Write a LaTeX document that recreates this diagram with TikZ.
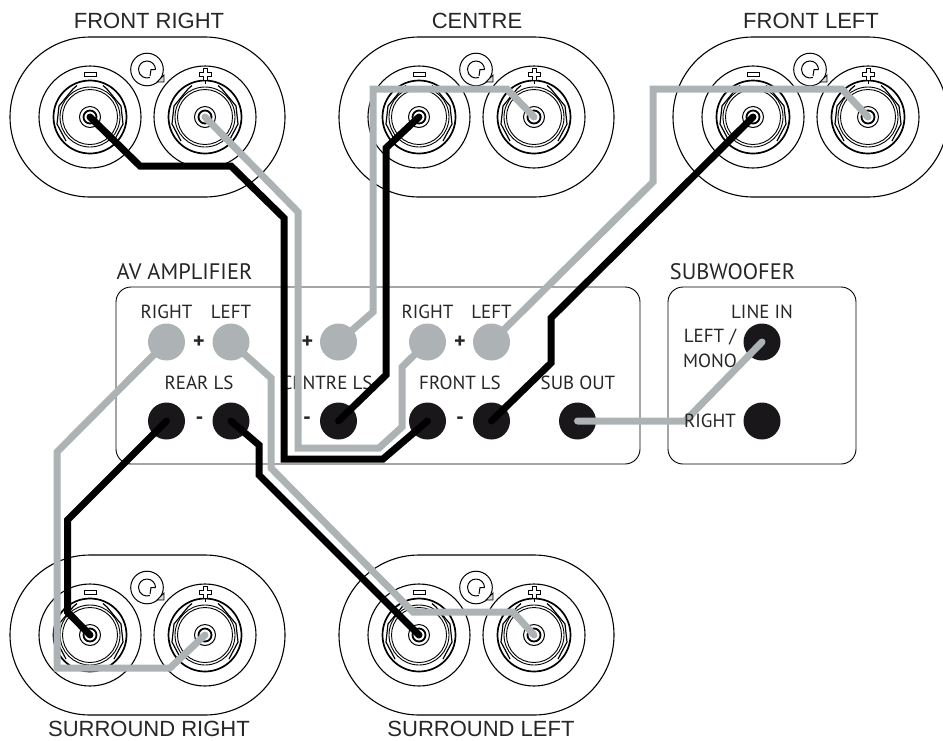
\documentclass[tikz,border=0pt]{standalone}
\usepackage{fontspec}
\setmainfont{PT Sans}
\newfontfamily\headfont{Liberation Sans}
\usetikzlibrary{positioning}

\definecolor{wiregrey}{HTML}{ADB2B5}
\definecolor{socketblack}{HTML}{1A171B}

\tikzset{
	body/.style={draw, line width=1.1pt, minimum width=275pt, minimum height=160pt, rounded corners=80pt},
	ring/.style={draw, circle, inner sep=0pt, line width=1.1pt, minimum size=102pt},
	panel/.style={draw, line width=.9pt, rounded corners=15pt, inner sep=0pt},
	jack/.style={circle, inner sep=0pt, minimum size=37pt},
	jackon/.style={jack, fill=socketblack},
	jackplus/.style={jack, fill=wiregrey},
	head/.style={font=\headfont\fontsize{22}{22}\selectfont, text=black!85, inner sep=0pt},
	title/.style={font=\fontsize{22.4}{22.4}\selectfont, text=black!85, inner sep=0pt},
	word/.style={font=\fontsize{19}{19}\selectfont, text=black!85, inner sep=0pt},
	sign/.style={font=\bfseries\fontsize{22}{22}\selectfont, text=black!85, inner sep=0pt},
	blackwire/.style={draw=black, line width=7pt, line cap=round},
	greywire/.style={draw=wiregrey, line width=7pt, line cap=round},
}

% one speaker: name, x, y
\newcommand{\speaker}[3]{
	\node[body] (#1-body) at (#2+57.5,#3) {};
	\node[ring] (#1-neg) at (#2,#3) {};
	\node[ring] (#1-pos) at (#2+115,#3) {};
	\foreach \tx in {0,115} {
		\begin{scope}[shift={(#2+\tx,#3)}]
		\draw[line width=1.7pt] (0,0) circle (36.5);
		\draw[line width=.9pt] (0,0) circle (30);
		\draw[line width=.9pt] (0,0) circle (27.5);
		\draw[line width=1.2pt] (-13,-31.5) -- (-17,-28) -- (-31,-11) -- (-33,7) -- (-24,24);
		\draw[line width=1.2pt] (13,-31.5) -- (17,-28) -- (31,-11) -- (33,7) -- (24,24);
		\draw[line width=1pt] (0,0) circle (10.5);
		\draw[line width=1.8pt] (0,0) circle (6.5);
		\end{scope}
	}
	% minus and plus marks
	\draw[line width=.9pt] (#2-6,#3-45) rectangle (#2+6,#3-40.5);
	\draw[line width=.9pt, fill=white] (#2+113,#3-49) -- (#2+117,#3-49) -- (#2+117,#3-45) -- (#2+121,#3-45)
		-- (#2+121,#3-41) -- (#2+117,#3-41) -- (#2+117,#3-37) -- (#2+113,#3-37) -- (#2+113,#3-41)
		-- (#2+109,#3-41) -- (#2+109,#3-45) -- (#2+113,#3-45) -- cycle;
	\draw[line width=.9pt] (#2+115,#3-37) -- (#2+115,#3-33);
	% rotation mark
	\draw[line width=1pt] (#2+57,#3-47.5) circle (16.3);
	\draw[line width=1pt] (#2+65.5,#3-47.5) arc (0:-290:8.5);
	\draw[line width=1pt] (#2+65.5,#3-47.5) -- (#2+61,#3-47.5) -- (#2+60,#3-41);
	\draw[line width=.8pt, fill=black!15] (#2+74,#3-42) -- (#2+74,#3-35) -- (#2+67,#3-35) -- cycle;
}

\begin{document}
\begin{tikzpicture}[x=1pt, y=-1pt]

\useasboundingbox (0,0) rectangle (943,740);
\clip (0,0) rectangle (943,740);

\speaker{fr}{90}{117}
\speaker{ce}{419}{117}
\speaker{fl}{753}{117}
\speaker{sr}{90}{635}
\speaker{sl}{419}{635}

\node[head] (fr-text) at (149,21) {FRONT RIGHT};
\node[head] (ce-text) at (477,21) {CENTRE};
\node[head] (fl-text) at (811,21) {FRONT LEFT};
\node[head] (sr-text) at (149,729) {SURROUND RIGHT};
\node[head] (sl-text) at (481,729) {SURROUND LEFT};

%amplifier and subwoofer
\node[panel, minimum width=524pt, minimum height=177pt] (amp) at (378,375.5) {};
\node[panel, minimum width=188pt, minimum height=177pt] (sub) at (762,375.5) {};
\node[title] (amp-text) at (184.5,272) {AV AMPLIFIER};
\node[title] (sub-text) at (732.5,272) {SUBWOOFER};

\node[jackplus] (rear-r) at (166.5,342) {};
\node[jackplus] (rear-l) at (231,342) {};
\node[jackplus] (cent-p) at (338.5,342) {};
\node[jackplus] (frnt-r) at (427.5,342) {};
\node[jackplus] (frnt-l) at (491.5,342) {};
\node[jackon] (rear-rn) at (166.5,421) {};
\node[jackon] (rear-ln) at (231,421) {};
\node[jackon] (cent-n) at (338.5,421) {};
\node[jackon] (frnt-rn) at (427.5,421) {};
\node[jackon] (frnt-ln) at (491.5,421) {};
\node[jackon] (subout) at (577.5,421) {};
\node[jackon] (linein-l) at (762,342) {};
\node[jackon] (linein-r) at (762,421) {};

\node[word] (t-rr) at (166.5,312) {RIGHT};
\node[word] (t-rl) at (231,312) {LEFT};
\node[word] (t-fr) at (427.5,312) {RIGHT};
\node[word] (t-fl) at (491.5,312) {LEFT};
\node[word] (t-rear) at (199,383) {REAR LS};
\node[word] (t-cent) at (327,383) {CENTRE LS};
\node[word] (t-frnt) at (460,383) {FRONT LS};
\node[word] (t-sub) at (578,383) {SUB OUT};
\node[word] (t-line) at (762,312) {LINE IN};
\node[word] (t-left) at (710,337) {LEFT /};
\node[word] (t-mono) at (710,361) {MONO};

\node[sign] (p1) at (199,342) {+};
\node[sign] (p2) at (307.5,342) {+};
\node[sign] (p3) at (460,342) {+};
\node[sign] (m1) at (199.5,421) {-};
\node[sign] (m2) at (307,421) {-};
\node[sign] (m3) at (460,421) {-};

%black wires
\draw[blackwire] (fr-neg.center) -- (140,166) -- (231,166) -- (284,218) -- (284,459) -- (383,459) -- (frnt-rn.center);
\draw[blackwire] (ce-neg.center) -- (386,148) -- (386,375) -- (cent-n.center);
\draw[blackwire] (fl-neg.center) -- (551,318) -- (551,363) -- (frnt-ln.center);
\draw[blackwire] (rear-rn.center) -- (67.5,520) -- (67.5,612) -- (sr-neg.center);
\draw[blackwire] (rear-ln.center) -- (259,445) -- (259,475) -- (sl-neg.center);

%grey wires
\draw[greywire] (fr-pos.center) -- (298,212) -- (298,448) -- (379,448) -- (402,427) -- (402,367) -- (frnt-r.center);
\draw[greywire] (ce-pos.center) -- (507,89) -- (373,89) -- (373,312) -- (cent-p.center);
\draw[greywire] (fl-pos.center) -- (842,89) -- (653,89) -- (653,182) -- (frnt-l.center);
\draw[greywire] (rear-r.center) -- (57,452) -- (57,668) -- (170,668) -- (sr-pos.center);
\draw[greywire] (rear-l.center) -- (271,378) -- (271,468) -- (413,612) -- (513,612) -- (sl-pos.center);
\draw[greywire] (subout.center) -- (685,421) -- (linein-l.center);

%sits on top of the wire
\node[word] (t-right) at (710,421) {RIGHT};

\end{tikzpicture}
\end{document}
